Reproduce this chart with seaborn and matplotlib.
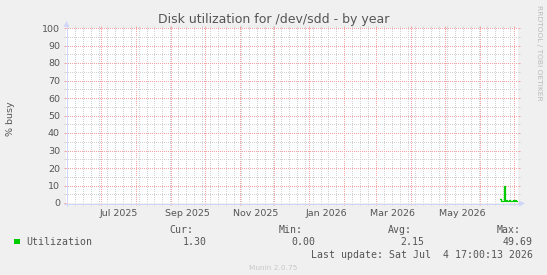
import matplotlib
matplotlib.use("Agg")
import matplotlib.pyplot as plt
import matplotlib.dates as mdates
import matplotlib.transforms as mtransforms
from matplotlib.lines import Line2D
from matplotlib.patches import Polygon, Rectangle
import seaborn as sns
import pandas as pd

# ---------------- data ----------------
dates = ["2026-06-19", "2026-06-20", "2026-06-21", "2026-06-22", "2026-06-23",
         "2026-06-24", "2026-06-25", "2026-06-26", "2026-06-27", "2026-06-28",
         "2026-06-29", "2026-06-30", "2026-07-01", "2026-07-02", "2026-07-03",
         "2026-07-04"]
utilization = [2.3, 1.0, 1.2, 9.5, 1.3, 1.5, 1.4, 1.4, 1.5, 1.4, 1.4, 1.5, 1.4,
               1.9, 1.3, 1.3]
x_start = "2025-05-30 17:00"
x_end = "2026-07-04 17:00"
y_ticks = list(range(0, 101, 10))
x_labels = ["Jul 2025", "Sep 2025", "Nov 2025", "Jan 2026", "Mar 2026", "May 2026"]
x_label_dates = ["2025-07-16", "2025-09-15", "2025-11-15", "2026-01-16",
                 "2026-03-16", "2026-05-16"]
stat_names = ["Cur:", "Min:", "Avg:", "Max:"]
stat_values = ["1.30", "0.00", "2.15", "49.69"]
series_name = "Utilization"
title = "Disk utilization for /dev/sdd - by year"
ylabel = "% busy"
last_update = "Last update: Sat Jul  4 17:00:13 2026"
footer = "Munin 2.0.75"
side_text = "RRDTOOL / TOBI OETIKER"

# ---------------- style ----------------
W, H = 547, 275
BG = "#F0F0F0"
FONT = "#555555"
AXIS = "#CFD6F8"
MGRID = "#F2A4A4"
GRID = "#D2D2D2"
GREEN = "#00CC00"

L, R, T, B = 66, 518, 28, 203

fig = plt.figure(figsize=(W / 100, H / 100), dpi=100, facecolor=BG)
ax = fig.add_axes([L / W, (H - B) / H, (R - L) / W, (B - T) / H])
ax.set_facecolor("white")


def fx(x):
    return x / W


def fy(y):
    return 1 - y / H


df = pd.DataFrame({"date": pd.to_datetime(dates), "util": utilization})
sns.lineplot(data=df, x="date", y="util", ax=ax, color=GREEN, linewidth=0.9,
             drawstyle="steps-post", zorder=5)

ax.set_xlim(pd.Timestamp(x_start), pd.Timestamp(x_end))
ax.set_ylim(0, 100)
ax.set_xlabel("")
ax.set_ylabel("")

for s in ax.spines.values():
    s.set_visible(False)

ax.set_yticks(y_ticks)
ax.set_yticks(list(range(5, 100, 10)), minor=True)
ax.xaxis.set_major_locator(mdates.MonthLocator())
ax.xaxis.set_minor_locator(mdates.WeekdayLocator(byweekday=mdates.SU))
ax.tick_params(axis="x", which="both", labelbottom=False)
ax.tick_params(axis="y", which="major", labelsize=6.8, labelcolor=FONT, pad=2.9)

lw = 0.72
ax.tick_params(which="major", length=1.5, width=lw, color=MGRID, direction="out",
               left=True, right=True, bottom=True, top=True)
ax.tick_params(which="minor", length=1.5, width=lw, color=GRID, direction="out",
               left=True, right=True, bottom=True, top=True)
ax.grid(True, which="minor", color=GRID, linestyle=(0.5, (1, 1)), linewidth=lw)
ax.grid(True, which="major", color=MGRID, linestyle=(0.5, (1, 1)), linewidth=lw)
ax.set_axisbelow(True)

xt = mtransforms.blended_transform_factory(ax.transData, fig.transFigure)
for lab, d in zip(x_labels, x_label_dates):
    ax.text(mdates.date2num(pd.Timestamp(d)), fy(216.5), lab, transform=xt,
            ha="center", va="baseline", fontsize=6.8, color=FONT)

# axes with arrows
fig.add_artist(Line2D([fx(63.5), fx(519.5)], [fy(B + 0.5), fy(B + 0.5)], color=AXIS,
                      lw=lw, transform=fig.transFigure))
fig.add_artist(Polygon([(fx(519), fy(200.5)), (fx(519), fy(206.5)), (fx(525), fy(B + 0.5))],
                       closed=True, color=AXIS, transform=fig.transFigure, lw=0))
fig.add_artist(Line2D([fx(L + 0.5), fx(L + 0.5)], [fy(206), fy(26.5)], color=AXIS,
                      lw=lw, transform=fig.transFigure))
fig.add_artist(Polygon([(fx(L - 2.5), fy(27)), (fx(L + 3.5), fy(27)), (fx(L + 0.5), fy(21))],
                       closed=True, color=AXIS, transform=fig.transFigure, lw=0))

# title, labels
fig.text(fx(273.5), fy(23.5), title, ha="center", va="baseline", fontsize=9,
         color=FONT)
fig.text(fx(10.5), fy(119), ylabel, ha="center", va="center", rotation=90,
         fontsize=6.8, color=FONT)
fig.text(fx(538.5), fy(53.3), side_text, ha="center", va="center", rotation=270,
         fontsize=5.4, color="#BBBBBB")

# legend
mono = dict(family="DejaVu Sans Mono", fontsize=7.1, color=FONT)
name_right = [193.6, 302.9, 411.7, 520.6]
val_right = [206.6, 315.0, 424.0, 532.8]
for n, x in zip(stat_names, name_right):
    fig.text(fx(x), fy(232.7), n, ha="right", va="baseline", **mono)
for v, x in zip(stat_values, val_right):
    fig.text(fx(x), fy(244.9), v, ha="right", va="baseline", **mono)
fig.add_artist(Rectangle((fx(14), fy(244.2)), fx(5.5), 5.5 / H, color=GREEN,
                         transform=fig.transFigure, lw=0))
fig.text(fx(26.2), fy(244.9), series_name, ha="left", va="baseline", **mono)
fig.text(fx(532.8), fy(257.8), last_update, ha="right", va="baseline", **mono)
fig.text(fx(272.9), fy(270.4), footer, ha="center", va="baseline", fontsize=5.3,
         color="#C8C8C8")

fig.savefig("out.png", dpi=100, facecolor=BG)
